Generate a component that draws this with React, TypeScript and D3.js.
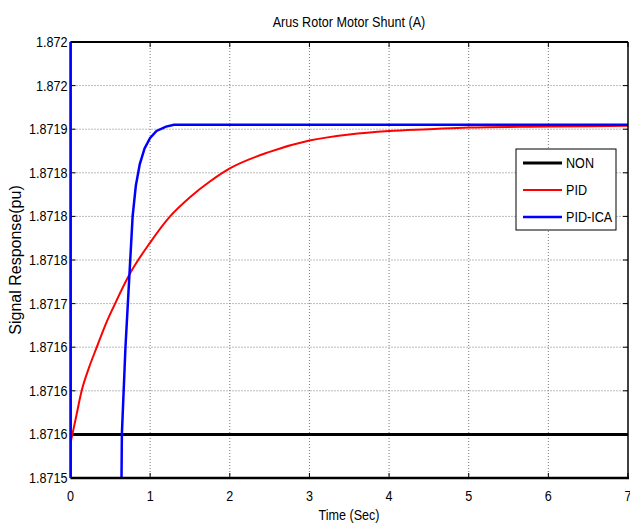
import * as d3 from 'd3'
import React from 'react'

// series
const timeTicks = [0, 1, 2, 3, 4, 5, 6, 7]
const yTickValues = [1.8715, 1.87155, 1.8716, 1.87165, 1.8717, 1.87175, 1.8718, 1.87185, 1.8719, 1.87195, 1.872]
const yTickLabels = ['1.8715', '1.8716', '1.8716', '1.8716', '1.8717', '1.8718', '1.8718', '1.8718', '1.8719', '1.872', '1.872']

const nonSeries: [number, number][] = [[0, 1.87155], [7, 1.87155]]

const pidSeries: [number, number][] = [
  [0, 1.87154], [0.07, 1.87157], [0.14, 1.8716], [0.23, 1.871626], [0.33, 1.87165],
  [0.44, 1.871676], [0.56, 1.8717], [0.75, 1.871735], [1, 1.87177], [1.25, 1.8718],
  [1.5, 1.871822], [1.75, 1.87184], [2, 1.871855], [2.5, 1.871874], [3, 1.871887],
  [3.5, 1.871894], [4, 1.871898], [4.5, 1.8719], [5, 1.871902], [6, 1.871903], [7, 1.871904]
]

const icaSeries: [number, number][] = [
  [0, 1.87202], [0.002, 1.87145], [0.636, 1.87145], [0.645, 1.87155], [0.69, 1.87165],
  [0.72, 1.8717], [0.75, 1.87175], [0.78, 1.8718], [0.82, 1.871835], [0.87, 1.87186],
  [0.93, 1.871878], [1.0, 1.87189], [1.08, 1.871898], [1.2, 1.871903], [1.3, 1.871905], [7, 1.871905]
]

const legendItems = [
  { name: 'NON', color: '#000000', width: 3 },
  { name: 'PID', color: '#ff0000', width: 2 },
  { name: 'PID-ICA', color: '#0000ff', width: 2.5 }
]

const font = '"Liberation Sans", Arial, sans-serif'

// condensed text, like the squeezed MATLAB export
const NText = ({ x, y, anchor = 'start', size = 14, children }: any) => (
  <text transform={`translate(${x},${y}) scale(0.84,1)`} textAnchor={anchor}
    fontFamily={font} fontSize={size} fill='#000'>{children}</text>
)

export default function App() {
  const width = 630
  const height = 525
  const left = 70.5
  const right = 628
  const top = 42
  const bottom = 478

  const x = d3.scaleLinear().domain([0, 7]).range([left, right])
  const y = d3.scaleLinear().domain([1.8715, 1.872]).range([bottom, top])

  const line = d3.line<[number, number]>().x((d) => x(d[0])).y((d) => y(d[1]))
  const smooth = d3.line<[number, number]>().x((d) => x(d[0])).y((d) => y(d[1])).curve(d3.curveMonotoneX)

  return (
    <svg
      width={width}
      height={height}
      style={{ position: 'absolute', left: 0, top: 0, background: '#fff' }}
    >
      <defs>
        <clipPath id='plot'>
          <rect x={left} y={top} width={right - left} height={bottom - top} />
        </clipPath>
      </defs>
      <rect width={width} height={height} fill='#fff' />

      {/* grid */}
      {timeTicks.slice(1, -1).map((t) => (
        <line key={'gx' + t} x1={x(t)} x2={x(t)} y1={top} y2={bottom}
          stroke='#7a7a7a' strokeWidth={1} strokeDasharray='1,2' />
      ))}
      {yTickValues.slice(1, -1).map((v) => (
        <line key={'gy' + v} x1={left} x2={right} y1={y(v)} y2={y(v)}
          stroke='#7a7a7a' strokeWidth={1} strokeDasharray='1,2' />
      ))}

      {/* tick marks */}
      {timeTicks.map((t) => (
        <g key={'tx' + t}>
          <line x1={x(t)} x2={x(t)} y1={bottom} y2={bottom - 5} stroke='#000' />
          <line x1={x(t)} x2={x(t)} y1={top} y2={top + 5} stroke='#000' />
        </g>
      ))}
      {yTickValues.map((v) => (
        <g key={'ty' + v}>
          <line x1={left} x2={left + 5} y1={y(v)} y2={y(v)} stroke='#000' />
          <line x1={right} x2={right - 5} y1={y(v)} y2={y(v)} stroke='#000' />
        </g>
      ))}

      {/* series */}
      <g clipPath='url(#plot)'>
        <path d={line(nonSeries) || ''} fill='none' stroke='#000' strokeWidth={3} />
        <path d={smooth(pidSeries) || ''} fill='none' stroke='#ff0000' strokeWidth={2} />
        <path d={line(icaSeries) || ''} fill='none' stroke='#0000ff' strokeWidth={2.5} />
      </g>

      {/* frame */}
      <line x1={left} x2={right} y1={top} y2={top} stroke='#000' strokeWidth={2} />
      <line x1={left} x2={right + 1} y1={bottom} y2={bottom} stroke='#000' strokeWidth={2.5} />
      <line x1={right} x2={right} y1={top} y2={bottom} stroke='#000' strokeWidth={1.5} />
      <line x1={left} x2={left} y1={top} y2={bottom} stroke='#0000ff' strokeWidth={2.5} />

      {/* tick labels */}
      {yTickValues.map((v, i) => (
        <NText key={'ly' + v} x={left - 3} y={y(v) + 5} anchor='end' size={15}>{yTickLabels[i]}</NText>
      ))}
      {timeTicks.map((t) => (
        <NText key={'lx' + t} x={x(t)} y={501} anchor='middle' size={15}>{t}</NText>
      ))}

      {/* titles */}
      <NText x={349} y={27} anchor='middle' size={15}>Arus Rotor Motor Shunt (A)</NText>
      <NText x={349} y={520} anchor='middle' size={15}>Time (Sec)</NText>
      <text transform={`translate(21,${(top + bottom) / 2}) rotate(-90)`} textAnchor='middle'
        fontFamily={font} fontSize={16} fill='#000'>
        Signal Response(pu)
      </text>

      {/* legend */}
      <rect x={516} y={149} width={100} height={81} fill='#fff' stroke='#000' strokeWidth={1} />
      {legendItems.map((d, i) => {
        const ly = 163 + i * 27
        return (
          <g key={d.name}>
            <line x1={523} x2={562} y1={ly} y2={ly} stroke={d.color} strokeWidth={d.width} />
            <NText x={566} y={ly + 5} size={15}>{d.name}</NText>
          </g>
        )
      })}
    </svg>
  )
}
